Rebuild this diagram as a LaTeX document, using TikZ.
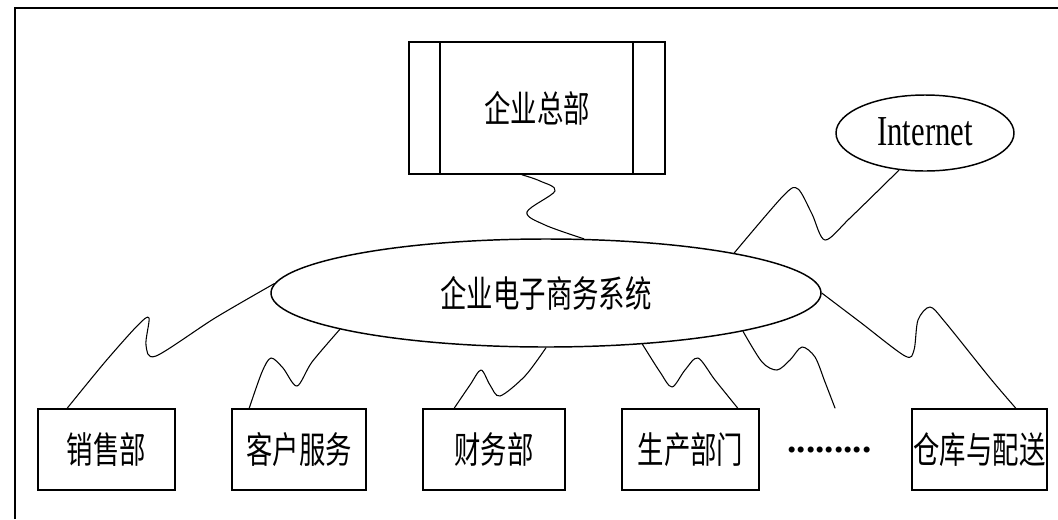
\documentclass[tikz,border=0pt]{standalone}
\usepackage{graphicx}
\usepackage{fontspec}
\setmainfont{Liberation Serif}
\newfontfamily\cjk{Noto Sans CJK SC}
\usetikzlibrary{shapes.geometric,calc}
\newcommand\narrowtxt[1]{\scalebox{0.72}[1]{#1}}
\begin{document}
\begin{tikzpicture}[x=0.75pt,y=-0.75pt,
  cjkfont/.style={font=\cjk\fontsize{27.5}{27.5}\selectfont},
  box/.style={draw, line width=1.2pt, rectangle, inner sep=0pt, minimum height=60.75pt, cjkfont},
  oval/.style={draw, line width=1.1pt, ellipse, inner sep=0pt},
  wire/.style={line width=0.8pt, line join=round, line cap=round},
  frameline/.style={line width=1.8pt}]
\useasboundingbox[fill=white] (0,0) rectangle (1058,519);
% outer frame (clipped at right and bottom)
\draw[frameline] (15,519) -- (15,8) -- (1058,8);

% headquarters
\node[box, minimum width=192pt, minimum height=99pt] (hq) at (537,108) {\raisebox{-3.5pt}{\narrowtxt{企业总部}}};
\draw[line width=1.2pt] ($(hq.north west)+(32,0)$) -- ($(hq.south west)+(32,0)$);
\draw[line width=1.2pt] ($(hq.north east)+(-33,0)$) -- ($(hq.south east)+(-33,0)$);

% central system
\node[oval, minimum width=412.5pt, minimum height=81pt, cjkfont] (sys) at (546,293) {\raisebox{-2pt}{\narrowtxt{企业电子商务系统}}};

% internet
\node[oval, minimum width=133.5pt, minimum height=57pt, font=\fontsize{32}{32}\selectfont] (inet) at (925,133) {\raisebox{2pt}{\narrowtxt{Internet}}};

% departments
\node[box, minimum width=102.75pt] (sales) at (106.5,449.5) {\raisebox{-2pt}{\narrowtxt{销售部}}};
\node[box, minimum width=100.5pt]  (cust)  at (299,449.5)   {\raisebox{-2pt}{\narrowtxt{客户服务}}};
\node[box, minimum width=106.5pt]  (fin)   at (494,449.5)   {\raisebox{-2pt}{\narrowtxt{财务部}}};
\node[box, minimum width=102.75pt] (prod)  at (690.5,449.5) {\raisebox{-2pt}{\narrowtxt{生产部门}}};
\node[box, minimum width=101.25pt] (wh)    at (979.5,449.5) {\raisebox{-2pt}{\narrowtxt{仓库与配送}}};
\node[anchor=base, inner sep=0pt, font=\bfseries\fontsize{28}{28}\selectfont] (dots) at (829.5,452) {.........};

% connector end points
\coordinate (hqa) at ($(hq.south)+(-15,0)$);
\coordinate (salesa) at ($(sales.north west)+(30,0)$);
\coordinate (custa) at ($(cust.north west)+(18,0)$);
\coordinate (fina) at ($(fin.north west)+(32,0)$);
\coordinate (proda) at ($(prod.north east)+(-22,0)$);
\coordinate (wha) at ($(wh.north east)+(-32,0)$);
\coordinate (loose) at (835,408);

% wavy connectors
\draw[wire] plot[smooth, tension=0.55] coordinates {(hqa) (540,181) (555,191) (527,212) (545,225) (sys.55)};
\draw[wire] plot[smooth, tension=0.5] coordinates {(inet.235) (850,218) (825,240) (812,214) (798,189) (784,195) (sys.12)};
\draw[wire] plot[smooth, tension=0.5] coordinates {(sys.178) (215,318) (156,356) (146,345) (149,318) (138,325) (105,362) (salesa)};
\draw[wire] plot[smooth, tension=0.5] coordinates {(sys.190) (312,362) (297,386) (283,368) (271,358) (262,372) (custa)};
\draw[wire] plot[smooth, tension=0.5] coordinates {(sys.270) (525,376) (500,396) (490,385) (481,370) (470,385) (fina)};
\draw[wire] plot[smooth, tension=0.5] coordinates {(sys.332) (660,372) (672,387) (685,370) (698,358) (715,380) (proda)};
\draw[wire] plot[smooth, tension=0.5] coordinates {(sys.349) (762,362) (777,370) (790,360) (802,347) (815,357) (825,382) (loose)};
\draw[wire] plot[smooth, tension=0.5] coordinates {(sys.0) (860,322) (905,356) (914,350) (918,320) (930,307) (945,322) (990,378) (wha)};
\end{tikzpicture}
\end{document}
